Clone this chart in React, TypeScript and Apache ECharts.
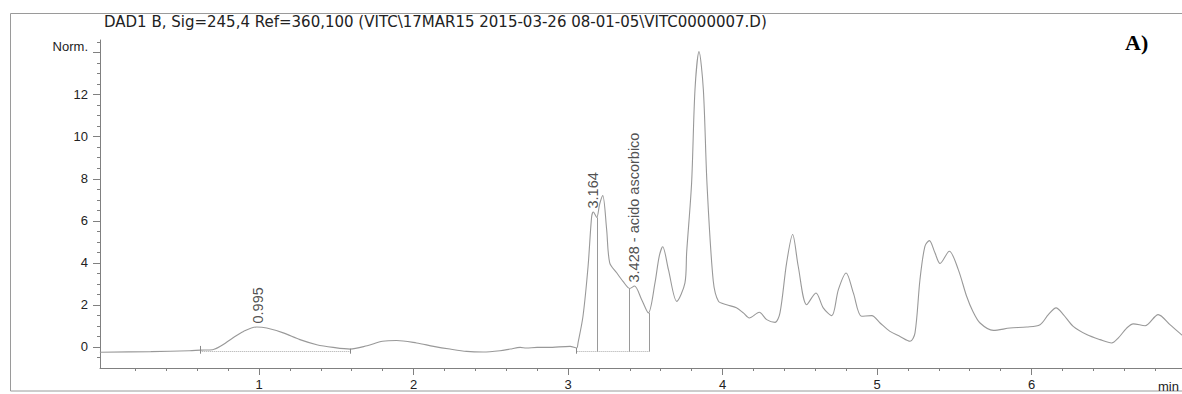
import React, { useEffect, useRef } from "react";
import * as echarts from "echarts";

const TITLE = "DAD1 B, Sig=245,4 Ref=360,100 (VITC\\17MAR15 2015-03-26 08-01-05\\VITC0000007.D)";

const retentionTime = [
  -0.03, 0.3, 0.55, 0.62, 0.7, 0.75, 0.83, 0.9, 0.985, 1.05, 1.157, 1.265, 1.374, 1.48, 1.59,
  1.7, 1.8, 1.89, 2.02, 2.13, 2.236, 2.344, 2.45, 2.56, 2.625, 2.69, 2.73, 2.8, 2.87, 3.013, 3.056,
  3.065, 3.097, 3.13, 3.153, 3.164, 3.186, 3.205, 3.225, 3.25, 3.27, 3.315, 3.356, 3.4, 3.43,
  3.477, 3.52, 3.563, 3.59, 3.613, 3.65, 3.704, 3.757, 3.768, 3.8, 3.822, 3.848, 3.876, 3.9,
  3.94, 3.974, 4.027, 4.09, 4.135, 4.173, 4.238, 4.286, 4.34, 4.372, 4.415, 4.454, 4.49, 4.545,
  4.605, 4.652, 4.707, 4.75, 4.8, 4.847, 4.9, 4.966, 5.02, 5.084, 5.149, 5.214, 5.246, 5.278,
  5.31, 5.339, 5.375, 5.408, 5.468, 5.526, 5.58, 5.62, 5.667, 5.753, 5.861, 5.969, 6.055, 6.109,
  6.159, 6.206, 6.27, 6.357, 6.443, 6.519, 6.562, 6.616, 6.659, 6.735, 6.82, 6.896, 6.97, 7.0,
];

const absorbance = [
  -0.25, -0.22, -0.18, -0.15, -0.13, 0.03, 0.43, 0.74, 0.95, 0.9, 0.67, 0.35, 0.11, -0.02, -0.1,
  0.06, 0.27, 0.31, 0.19, 0.03, -0.1, -0.21, -0.24, -0.18, -0.1, -0.02, -0.05, -0.02, -0.02, 0.03, -0.05,
  0.2, 1.46, 3.84, 6.2, 6.42, 6.16, 6.8, 7.2, 5.6, 4.0, 3.53, 3.12, 2.78, 2.9,
  2.25, 1.62, 3.05, 4.3, 4.77, 3.68, 2.17, 3.05, 4.5, 7.8, 12.25, 14.05, 12.25, 7.7,
  3.15, 2.17, 2.01, 1.86, 1.62, 1.38, 1.65, 1.3, 1.17, 1.62, 4.0, 5.35, 3.84, 2.01,
  2.57, 1.86, 1.49, 2.73, 3.52, 2.57, 1.46, 1.49, 1.14, 0.74, 0.5, 0.27, 0.67, 3.2,
  4.79, 5.06, 4.48, 3.97, 4.55, 3.68, 2.41, 1.7, 1.14, 0.79, 0.9, 0.95, 1.06, 1.54,
  1.86, 1.54, 0.98, 0.59, 0.35, 0.19, 0.43, 0.9, 1.1, 1.01, 1.54, 1.06, 0.59, 0.45,
];

const peakTimes = [0.995, 3.164, 3.428];
const peakHeights = [0.95, 6.42, 2.9];
const peakNames = ["0.995", "3.164", "3.428 - acido ascorbico"];

const dropTimes = [3.188, 3.397, 3.526];
const dropTops = [6.16, 2.78, 1.62];
const baselineStarts = [0.62, 3.056];
const baselineEnds = [1.59, 3.526];
const baselineLevel = -0.22;
const eventMarkTimes = [0.62, 1.59, 3.056];
const eventMarkTops = [0.05, -0.08, -0.05];

const xMajorTicks = [1, 2, 3, 4, 5, 6];
const xMinorTicks = [
  0.2, 0.4, 0.6, 0.8, 1.2, 1.4, 1.6, 1.8, 2.2, 2.4, 2.6, 2.8, 3.2, 3.4, 3.6, 3.8,
  4.2, 4.4, 4.6, 4.8, 5.2, 5.4, 5.6, 5.8, 6.2, 6.4, 6.6, 6.8,
];
const yMajorTicks = [0, 2, 4, 6, 8, 10, 12, 14];
const yLabels = [0, 2, 4, 6, 8, 10, 12];
const yMinorTicks = [
  -0.5, 0.5, 1, 1.5, 2.5, 3, 3.5, 4.5, 5, 5.5, 6.5, 7, 7.5, 8.5, 9, 9.5, 10.5, 11, 11.5,
  12.5, 13, 13.5, 14.5,
];

const X_MIN = -0.029;
const X_MAX = 6.974;
const Y_MIN = -1;
const Y_MAX = 14.6;

const FONT = "Liberation Sans";
const AXIS_COLOR = "#808080";
const LINE_COLOR = "#999";
const TEXT_COLOR = "#222";

export default function App() {
  const ref = useRef<HTMLDivElement>(null);

  useEffect(() => {
    if (!ref.current) return;
    const chart = echarts.init(ref.current, undefined, { renderer: "svg" });

    const curve = retentionTime.map((t, i) => [t, absorbance[i]]);
    const peaks = peakTimes.map((t, i) => ({ value: [t, peakHeights[i]], name: peakNames[i] }));

    const markData: any[] = [];
    baselineStarts.forEach((s, i) => {
      markData.push([
        { coord: [s, baselineLevel], lineStyle: { type: "dotted", color: "#aaa", width: 1 } },
        { coord: [baselineEnds[i], baselineLevel] },
      ]);
    });
    dropTimes.forEach((t, i) => {
      markData.push([
        { coord: [t, dropTops[i]], lineStyle: { type: "solid", color: "#9a9a9a", width: 1 } },
        { coord: [t, baselineLevel] },
      ]);
    });
    eventMarkTimes.forEach((t, i) => {
      markData.push([
        { coord: [t, eventMarkTops[i]], lineStyle: { type: "solid", color: "#888", width: 1 } },
        { coord: [t, baselineLevel - 0.1] },
      ]);
    });

    const axisLine = { show: true, onZero: false, lineStyle: { color: AXIS_COLOR, width: 1 } };
    const hiddenLine = { show: false, onZero: false };

    chart.setOption({
      animation: false,
      backgroundColor: "#fff",
      title: {
        text: TITLE,
        left: 104,
        top: 14,
        padding: 0,
        textStyle: { fontFamily: "DejaVu Sans", fontSize: 15, fontWeight: "normal", color: TEXT_COLOR },
      },
      grid: { left: 100, right: 0, top: 40, bottom: 26 },
      xAxis: [
        {
          type: "value",
          min: X_MIN,
          max: X_MAX,
          position: "bottom",
          axisLine,
          axisTick: { show: true, customValues: xMajorTicks, length: 7, lineStyle: { color: AXIS_COLOR } },
          axisLabel: { customValues: xMajorTicks, margin: 10, fontSize: 13, color: TEXT_COLOR, fontFamily: FONT },
          splitLine: { show: false },
        },
        {
          type: "value",
          min: X_MIN,
          max: X_MAX,
          position: "bottom",
          axisLine: hiddenLine,
          axisTick: { show: true, customValues: xMinorTicks, length: 3, lineStyle: { color: AXIS_COLOR } },
          axisLabel: { show: false },
          splitLine: { show: false },
        },
      ],
      yAxis: [
        {
          type: "value",
          min: Y_MIN,
          max: Y_MAX,
          position: "left",
          axisLine,
          axisTick: { show: true, customValues: yMajorTicks, length: 7, lineStyle: { color: AXIS_COLOR } },
          axisLabel: { customValues: yLabels, margin: 12, fontSize: 13, color: TEXT_COLOR, fontFamily: FONT },
          splitLine: { show: false },
        },
        {
          type: "value",
          min: Y_MIN,
          max: Y_MAX,
          position: "left",
          axisLine: hiddenLine,
          axisTick: { show: true, customValues: yMinorTicks, length: 3, lineStyle: { color: AXIS_COLOR } },
          axisLabel: { show: false },
          splitLine: { show: false },
        },
      ],
      series: [
        {
          type: "line",
          name: "DAD1 B",
          data: curve,
          xAxisIndex: 0,
          yAxisIndex: 0,
          smooth: 0.3,
          showSymbol: false,
          symbol: "none",
          lineStyle: { color: LINE_COLOR, width: 1.1 },
          clip: true,
          markLine: {
            silent: true,
            symbol: ["none", "none"],
            label: { show: false },
            animation: false,
            data: markData,
          },
        },
        {
          type: "scatter",
          name: "peaks",
          data: peaks,
          xAxisIndex: 0,
          yAxisIndex: 0,
          symbolSize: 1,
          itemStyle: { color: "rgba(0,0,0,0)" },
          silent: true,
          label: {
            show: true,
            formatter: (p: any) => p.name,
            position: "top",
            distance: 3,
            rotate: 90,
            align: "left",
            verticalAlign: "middle",
            fontSize: 14.5,
            fontFamily: FONT,
            color: TEXT_COLOR,
          },
        },
      ],
      graphic: [
        {
          type: "rect",
          shape: { x: 10.5, y: 13.5, width: 1200, height: 377.5 },
          style: { fill: "none", stroke: "#9a9a9a", lineWidth: 1 },
          silent: true,
          z: -1,
        },
        {
          type: "text",
          x: 88,
          y: 46,
          style: { text: "Norm.", fontSize: 13, fontFamily: FONT, fill: TEXT_COLOR, align: "right", verticalAlign: "middle" },
        },
        {
          type: "text",
          x: 1158,
          y: 386,
          style: { text: "min", fontSize: 13, fontFamily: FONT, fill: TEXT_COLOR, align: "left", verticalAlign: "middle" },
        },
        {
          type: "text",
          x: 1125,
          y: 42,
          style: { text: "A)", fontSize: 22, fontWeight: "bold", fontFamily: "Liberation Serif", fill: "#000", align: "left", verticalAlign: "middle" },
        },
      ],
    });

    return () => chart.dispose();
  }, []);

  return (
    <div
      ref={ref}
      style={{ position: "fixed", left: 0, top: 0, width: 1182, height: 394, background: "#fff" }}
    />
  );
}
